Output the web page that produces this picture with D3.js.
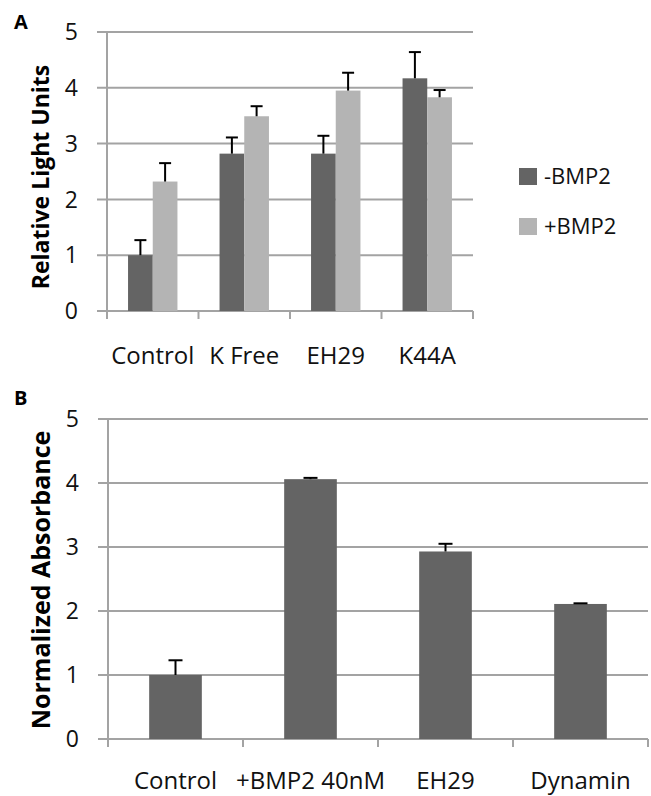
<!DOCTYPE html>
<html>
<head>
<meta charset="utf-8">
<script src="https://cdn.jsdelivr.net/npm/d3@7/dist/d3.min.js"></script>
<style>
  html, body { margin: 0; padding: 0; background: #fff; }
  svg { display: block; font-family: "Open Sans", "DejaVu Sans", sans-serif; }
</style>
</head>
<body>
<svg id="chart" width="651" height="796"></svg>
<script>
// ---- Data: panel A ----
const catsA = ["Control", "K Free", "EH29", "K44A"];
const seriesA = ["-BMP2", "+BMP2"];
const minusBMP2 = [1.00, 2.82, 2.82, 4.17];
const minusBMP2Err = [0.27, 0.29, 0.32, 0.47];
const plusBMP2 = [2.32, 3.49, 3.95, 3.83];
const plusBMP2Err = [0.33, 0.18, 0.32, 0.13];
// ---- Data: panel B ----
const catsB = ["Control", "+BMP2 40nM", "EH29", "Dynamin"];
const valuesB = [1.00, 4.06, 2.93, 2.11];
const errB = [0.23, 0.02, 0.12, 0.01];
const yTicks = [0, 1, 2, 3, 4, 5];

const svg = d3.select("#chart");
const colors = { "-BMP2": "#646464", "+BMP2": "#b4b4b4" };
const gridColor = "#a3a3a3";

function drawFrame(g, x, y, left, right, labelY) {
  g.append("g").selectAll("line").data(yTicks.filter(d => d > 0)).join("line")
    .attr("x1", left - 10).attr("x2", right)
    .attr("y1", d => y(d)).attr("y2", d => y(d))
    .attr("stroke", gridColor).attr("stroke-width", 2);
  g.append("line").attr("x1", left - 10).attr("x2", right)
    .attr("y1", y(0)).attr("y2", y(0)).attr("stroke", gridColor).attr("stroke-width", 2);
  g.append("line").attr("x1", left).attr("x2", left)
    .attr("y1", y(5)).attr("y2", y(0)).attr("stroke", gridColor).attr("stroke-width", 2);
  const bounds = x.domain().map(d => x(d)).concat([x.range()[1]]);
  g.append("g").selectAll("line").data(bounds).join("line")
    .attr("x1", d => d).attr("x2", d => d)
    .attr("y1", y(0)).attr("y2", y(0) + 8)
    .attr("stroke", gridColor).attr("stroke-width", 2);
  g.append("g").selectAll("text").data(yTicks).join("text")
    .attr("x", left - 29).attr("y", d => y(d)).attr("dy", "0.36em")
    .attr("text-anchor", "end").attr("font-size", 23).attr("fill", "#111")
    .text(d => d);
  g.append("g").selectAll("text").data(x.domain()).join("text")
    .attr("x", d => x(d) + x.bandwidth() / 2).attr("y", labelY)
    .attr("text-anchor", "middle").attr("font-size", 24).attr("fill", "#111")
    .text(d => d);
}

function errBar(g, cx, yTop, yErr, cap) {
  g.append("line").attr("x1", cx).attr("x2", cx).attr("y1", yTop).attr("y2", yErr)
    .attr("stroke", "#000").attr("stroke-width", 2);
  g.append("line").attr("x1", cx - cap).attr("x2", cx + cap).attr("y1", yErr).attr("y2", yErr)
    .attr("stroke", "#000").attr("stroke-width", 2);
}

// ---------- Panel A ----------
{
  const g = svg.append("g");
  const x0 = d3.scaleBand().domain(catsA).range([107, 473]).padding(0);
  const x1 = d3.scaleBand().domain(seriesA)
    .range([x0.bandwidth() * 0.23, x0.bandwidth() * 0.77]).padding(0);
  const y = d3.scaleLinear().domain([0, 5]).range([311, 32]);
  drawFrame(g, x0, y, 107, 473, 364);

  const rows = catsA.map((c, i) => ({ c, vals: [
    { s: "-BMP2", v: minusBMP2[i], e: minusBMP2Err[i] },
    { s: "+BMP2", v: plusBMP2[i], e: plusBMP2Err[i] } ] }));
  rows.forEach(r => {
    r.vals.forEach(d => {
      const bx = x0(r.c) + x1(d.s);
      g.append("rect").attr("x", bx).attr("y", y(d.v))
        .attr("width", x1.bandwidth()).attr("height", y(0) - y(d.v))
        .attr("fill", colors[d.s]);
      errBar(g, bx + x1.bandwidth() / 2, y(d.v), y(d.v + d.e), 6);
    });
  });

  const lg = svg.append("g");
  seriesA.forEach((s, i) => {
    lg.append("rect").attr("x", 519).attr("y", 168 + i * 50).attr("width", 18).attr("height", 17)
      .attr("fill", colors[s]);
    lg.append("text").attr("x", 544).attr("y", 176 + i * 50).attr("dy", "0.36em")
      .attr("font-size", 22).attr("fill", "#111").text(s);
  });

  svg.append("text").attr("transform", "translate(41,177) rotate(-90)")
    .attr("text-anchor", "middle").attr("dy", "0.35em")
    .attr("font-size", 23).attr("font-weight", "bold").attr("fill", "#000")
    .text("Relative Light Units");
  svg.append("text").attr("x", 14).attr("y", 29)
    .attr("font-size", 20).attr("font-weight", "bold").text("A");
}

// ---------- Panel B ----------
{
  const g = svg.append("g");
  const x = d3.scaleBand().domain(catsB).range([108, 648]).padding(0);
  const y = d3.scaleLinear().domain([0, 5]).range([739, 419]);
  drawFrame(g, x, y, 108, 648, 789);
  const bw = x.bandwidth() * 0.39;
  catsB.forEach((c, i) => {
    const bx = x(c) + (x.bandwidth() - bw) / 2;
    g.append("rect").attr("x", bx).attr("y", y(valuesB[i]))
      .attr("width", bw).attr("height", y(0) - y(valuesB[i]))
      .attr("fill", colors["-BMP2"]);
    errBar(g, bx + bw / 2, y(valuesB[i]), y(valuesB[i] + errB[i]), 7);
  });
  svg.append("text").attr("transform", "translate(41,580) rotate(-90)")
    .attr("text-anchor", "middle").attr("dy", "0.35em")
    .attr("font-size", 25).attr("font-weight", "bold").attr("fill", "#000")
    .text("Normalized Absorbance");
  svg.append("text").attr("x", 14).attr("y", 405)
    .attr("font-size", 20).attr("font-weight", "bold").text("B");
}
</script>
</body>
</html>
